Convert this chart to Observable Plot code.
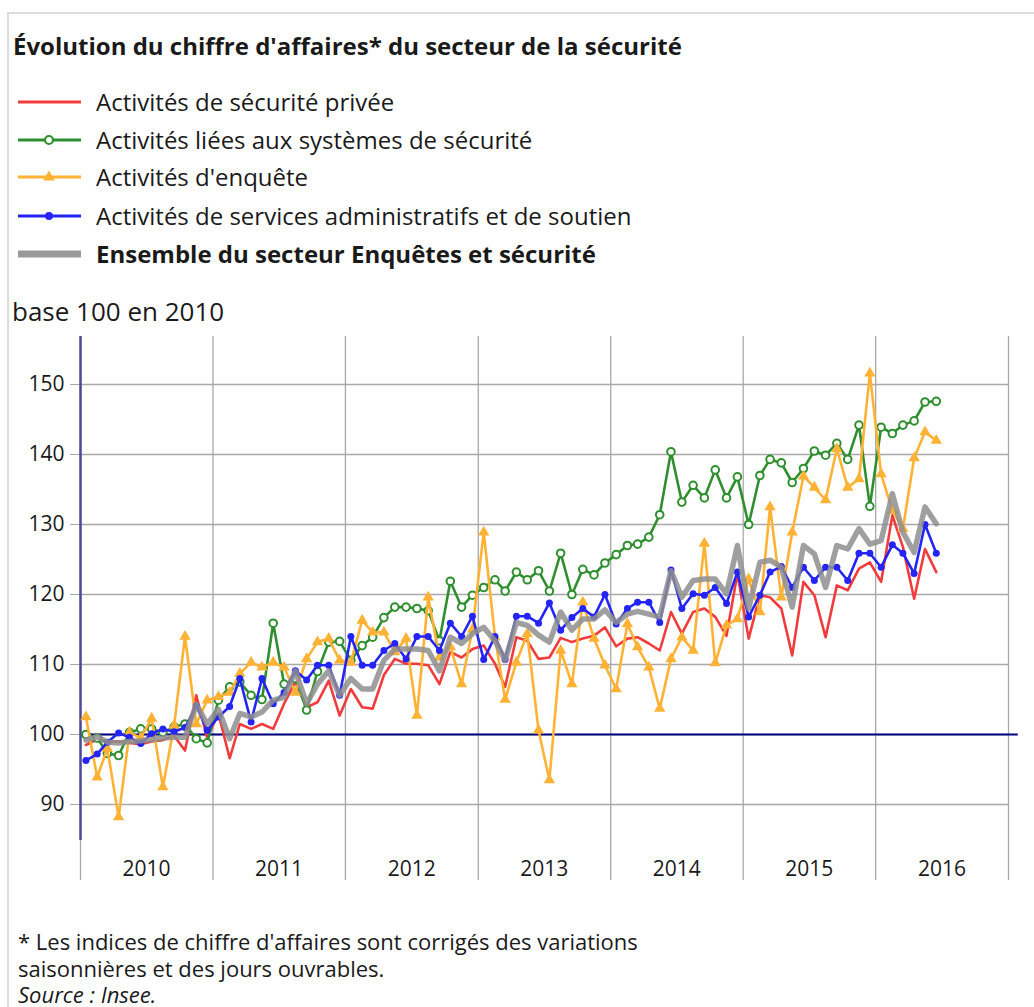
<!DOCTYPE html>
<html><head><meta charset="utf-8">
<script src="https://cdn.jsdelivr.net/npm/d3@7"></script>
<script src="https://cdn.jsdelivr.net/npm/@observablehq/plot@0.6"></script>
<style>
body{margin:0;background:#fff;font-family:"Open Sans",sans-serif;color:#1a1a1a;}
#page{position:relative;width:1034px;height:1007px;overflow:hidden;background:#fff;}
#frame{position:absolute;left:7px;top:12px;width:1200px;height:1200px;border-top:2px solid #dcdcdc;border-left:2px solid #dcdcdc;}
#title{position:absolute;left:13px;top:31px;font-weight:700;font-size:24px;line-height:30px;white-space:nowrap;}
.leg{position:absolute;left:17px;height:32px;line-height:32px;font-size:24px;white-space:nowrap;}
.leg svg{position:absolute;left:0;top:6px;}
.leg span{position:absolute;left:79px;top:0;}
#unit{position:absolute;left:12px;top:295px;font-size:26px;line-height:32px;white-space:nowrap;}
#chart{position:absolute;left:0;top:326px;}
#foot{position:absolute;left:18px;top:928px;font-size:22px;line-height:26.5px;}
</style></head>
<body><div id="page">
<div id="frame"></div>
<div id="title">Évolution du chiffre d'affaires* du secteur de la sécurité</div>
<div id="legend"></div>
<div id="unit">base 100 en 2010</div>
<div id="chart"></div>
<div id="foot">* Les indices de chiffre d'affaires sont corrigés des variations<br>saisonnières et des jours ouvrables.<br><i>Source : Insee.</i></div>
</div>
<script>
// Monthly indices, Jan 2010 – Jun 2016 (base 100 en 2010)
const startYear = 2010;
const years = [2010, 2011, 2012, 2013, 2014, 2015, 2016];
const yTicks = [90, 100, 110, 120, 130, 140, 150];

const securitePrivee = [98.5, 99.3, 99.0, 99.0, 98.8, 98.6, 99.0, 99.2, 99.8, 97.7, 105.6, 99.5,
 103.0, 96.6, 101.5, 100.8, 101.5, 100.8, 104.4, 107.5, 103.9, 104.6, 107.7, 102.7,
 106.5, 103.9, 103.7, 108.5, 110.8, 110.1, 110.1, 109.9, 107.2, 111.8, 111.0, 112.2,
 112.7, 110.1, 106.8, 113.9, 113.4, 110.8, 111.0, 113.8, 113.2, 113.7, 114.1, 115.3,
 112.6, 113.7, 113.9, 113.0, 112.0, 117.5, 114.4, 117.5, 118.0, 116.8, 114.1, 123.0,
 113.7, 119.9, 119.6, 118.0, 111.3, 121.8, 119.9, 113.9, 121.3, 120.6, 123.7, 124.6,
 121.8, 131.3, 126.8, 119.4, 126.5, 123.2];

const systemesSecurite = [100.0, 99.5, 97.3, 97.0, 100.3, 100.8, 100.8, 100.3, 101.1, 101.5, 99.4, 98.8,
 104.9, 106.8, 107.5, 105.6, 105.0, 115.9, 107.2, 108.0, 103.5, 109.0, 113.2, 113.3,
 110.6, 112.7, 113.9, 116.7, 118.2, 118.2, 118.0, 117.7, 113.4, 121.9, 118.2, 119.9,
 121.0, 122.1, 120.5, 123.2, 122.1, 123.4, 120.5, 125.9, 120.0, 123.6, 122.8, 124.5,
 125.7, 127.0, 127.2, 128.2, 131.4, 140.4, 133.2, 135.6, 133.8, 137.8, 133.8, 136.8,
 130.0, 137.0, 139.3, 138.8, 136.0, 138.0, 140.5, 139.9, 141.6, 139.3, 144.2, 132.6,
 143.9, 143.0, 144.2, 144.8, 147.5, 147.6];

const enquete = [102.5, 93.9, 98.0, 88.2, 100.3, 99.5, 102.3, 92.5, 101.3, 114.0, 101.5, 104.9,
 105.4, 106.0, 108.7, 110.3, 109.6, 110.3, 109.6, 106.0, 110.8, 113.2, 113.7, 110.6,
 110.3, 116.3, 114.6, 114.6, 111.8, 113.7, 102.7, 119.6, 111.0, 112.5, 107.2, 115.0,
 128.9, 113.9, 105.0, 110.3, 114.4, 100.6, 93.5, 112.0, 107.2, 118.9, 113.7, 109.9,
 106.5, 115.8, 112.5, 109.6, 103.7, 110.8, 113.9, 112.0, 127.3, 110.2, 115.6, 116.5,
 122.2, 117.5, 132.5, 119.6, 128.9, 136.9, 135.3, 133.5, 140.8, 135.3, 136.5, 151.6,
 137.2, 132.0, 129.4, 139.5, 143.2, 142.0];

const servicesAdmin = [96.3, 97.2, 98.9, 100.2, 99.6, 98.7, 100.1, 100.8, 100.4, 101.0, 104.1, 100.6,
 102.5, 104.0, 108.0, 101.8, 108.0, 104.4, 106.0, 109.1, 107.8, 109.9, 109.9, 105.6,
 114.0, 109.9, 109.9, 112.0, 113.0, 110.8, 114.0, 114.0, 112.0, 115.9, 114.0, 116.9,
 110.7, 114.0, 110.7, 116.9, 116.9, 115.9, 118.8, 114.9, 116.7, 118.0, 116.8, 120.0,
 115.8, 118.0, 118.9, 118.9, 116.0, 123.5, 118.0, 120.1, 119.9, 121.0, 118.7, 123.2,
 116.8, 119.9, 123.2, 124.0, 121.0, 123.9, 122.0, 123.9, 123.9, 122.0, 125.9, 125.9,
 123.9, 127.1, 125.9, 123.0, 130.0, 125.9];

const ensemble = [99.2, 99.7, 98.9, 98.8, 99.0, 99.1, 99.3, 99.5, 99.6, 99.6, 104.3, 101.5,
 103.6, 99.4, 103.0, 102.5, 103.2, 104.9, 105.3, 109.1, 104.4, 107.2, 109.1, 105.6,
 108.0, 106.5, 106.5, 110.6, 112.2, 112.2, 112.2, 112.0, 109.1, 113.9, 113.0, 114.4,
 115.3, 113.4, 110.6, 116.0, 115.6, 114.2, 113.2, 117.5, 114.9, 116.5, 116.5, 117.8,
 116.0, 117.2, 117.6, 117.2, 116.8, 123.4, 119.6, 122.0, 122.2, 122.2, 120.1, 127.0,
 118.0, 124.6, 124.9, 123.9, 118.2, 127.0, 125.8, 121.0, 127.0, 126.5, 129.4, 127.2,
 127.7, 134.4, 128.9, 126.0, 132.5, 130.1];

const seriesNames = [
  "Activités de sécurité privée",
  "Activités liées aux systèmes de sécurité",
  "Activités d'enquête",
  "Activités de services administratifs et de soutien",
  "Ensemble du secteur Enquêtes et sécurité"
];
const colors = {red: "#f03c3c", green: "#2f8f2f", orange: "#ffb234", blue: "#2424f5", gray: "#8e8e8e"};

// ---- build rows
const monthDate = i => new Date(Date.UTC(startYear, i, 16));
const rows = vals => vals.map((v, i) => ({date: monthDate(i), value: v}));
const R = rows(securitePrivee), G = rows(systemesSecurite), O = rows(enquete), B = rows(servicesAdmin), E = rows(ensemble);

// ---- legend (HTML)
const legendSpecs = [
  {name: seriesNames[0], color: colors.red, w: 3, marker: null},
  {name: seriesNames[1], color: colors.green, w: 3, marker: "circle"},
  {name: seriesNames[2], color: colors.orange, w: 3, marker: "triangle"},
  {name: seriesNames[3], color: colors.blue, w: 3, marker: "dot"},
  {name: seriesNames[4], color: "#999", w: 7, marker: null, bold: true}
];
const legendTops = [86, 124, 161, 200, 238];
const legendEl = document.getElementById("legend");
legendSpecs.forEach((s, k) => {
  const d = document.createElement("div");
  d.className = "leg";
  d.style.top = legendTops[k] + "px";
  let m = "";
  if (s.marker === "circle") m = `<circle cx="32" cy="10" r="4" fill="#fff" stroke="${s.color}" stroke-width="2.2"/>`;
  if (s.marker === "dot") m = `<circle cx="32" cy="10" r="4" fill="${s.color}"/>`;
  if (s.marker === "triangle") m = `<path d="M32,3.5 L38,13.5 L26,13.5 Z" fill="${s.color}"/>`;
  d.innerHTML = `<svg width="66" height="20"><line x1="1" x2="64" y1="10" y2="10" stroke="${s.color}" stroke-width="${s.w}"/>${m}</svg><span style="${s.bold ? "font-weight:700" : ""}">${s.name}</span>`;
  legendEl.appendChild(d);
});

// ---- chart
const x0 = new Date(Date.UTC(2010, 0, 1)), x1 = new Date(Date.UTC(2017, 0, 1));
const yMin = 84.857, yMax = 156.857, yGridBottom = 79.143;
const yearStarts = d3.range(2010, 2018).map(y => new Date(Date.UTC(y, 0, 1)));
const midYears = years.map(y => new Date(Date.UTC(y, 6, 2)));

const chart = Plot.plot({
  width: 1034, height: 564,
  marginLeft: 80, marginRight: 26, marginTop: 10, marginBottom: 50,
  x: {type: "utc", domain: [x0, x1], axis: null},
  y: {domain: [yMin, yMax], axis: null},
  style: {fontFamily: "'Open Sans', sans-serif", fontSize: "21px", color: "#1a1a1a", background: "transparent", overflow: "visible"},
  marks: [
    Plot.gridY(yTicks, {stroke: "#a8a8a8", strokeOpacity: 1, strokeWidth: 1.3}),
    Plot.ruleX(yearStarts, {y1: yMax, y2: yGridBottom, stroke: "#a8a8a8", strokeWidth: 1.3}),
    Plot.axisY(yTicks, {label: null, tickSize: 10, tickPadding: 6, stroke: "#a8a8a8", fill: "#1a1a1a", fontSize: 21}),
    Plot.axisX(midYears, {label: null, tickSize: 0, tickPadding: 21, tickFormat: d3.utcFormat("%Y"), fill: "#1a1a1a", fontSize: 21}),
    Plot.ruleY([100], {x1: () => x0, x2: () => new Date(Date.UTC(2017, 0, 28)), stroke: "#000080", strokeWidth: 2}),
    Plot.ruleX([x0], {y1: yMin, y2: yMax, stroke: "#4a4a96", strokeWidth: 2.5}),
    Plot.line(R, {x: "date", y: "value", stroke: colors.red, strokeWidth: 2.6}),
    Plot.line(G, {x: "date", y: "value", stroke: colors.green, strokeWidth: 2.6}),
    Plot.dot(G, {x: "date", y: "value", r: 3.8, stroke: colors.green, fill: "#fff", strokeWidth: 2}),
    Plot.line(O, {x: "date", y: "value", stroke: colors.orange, strokeWidth: 2.6}),
    Plot.dot(O, {x: "date", y: "value", symbol: "triangle", r: 4.2, fill: colors.orange}),
    Plot.line(B, {x: "date", y: "value", stroke: colors.blue, strokeWidth: 2.6}),
    Plot.dot(B, {x: "date", y: "value", r: 3.5, fill: colors.blue}),
    Plot.line(E, {x: "date", y: "value", stroke: colors.gray, strokeOpacity: 0.85, strokeWidth: 5.5})
  ]
});
document.getElementById("chart").appendChild(chart);
</script>
</body></html>
